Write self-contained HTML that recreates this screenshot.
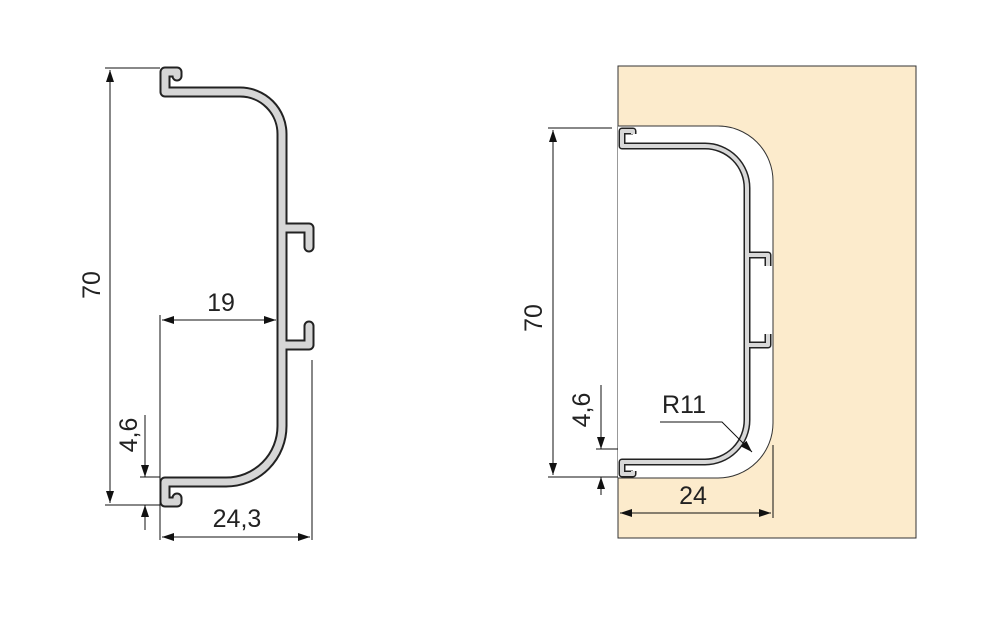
<!DOCTYPE html>
<html><head><style>body{margin:0;background:#fff}svg{display:block}text{font-family:"Liberation Sans",sans-serif;font-size:25px;fill:#222}</style></head>
<body>
<svg width="1007" height="639" viewBox="0 0 1007 639" xmlns="http://www.w3.org/2000/svg">
<defs>
<marker id="a" viewBox="0 0 12 8" refX="12" refY="4" markerWidth="12" markerHeight="8" markerUnits="userSpaceOnUse" orient="auto-start-reverse"><path d="M0,0 L12,4 L0,8z" fill="#111"/></marker>
</defs>
<path id="lp" d="M177,76 V72 H165 V92 H240 A42,42 0 0 1 282,134 V426 A56,56 0 0 1 226,482 H165 V502 H177 V498 M282,228 H309 V247 M282,345 H309 V326" fill="none"/>
<use href="#lp" stroke="#222" stroke-width="11" fill="none" stroke-linejoin="round" stroke-linecap="round"/>
<use href="#lp" stroke="#d6d6d6" stroke-width="7" fill="none" stroke-linejoin="round" stroke-linecap="round"/>
<g stroke="#111" stroke-width="1" fill="none">
<line x1="105" y1="68" x2="160" y2="68"/><line x1="105" y1="505" x2="160" y2="505"/>
<line x1="110" y1="70" x2="110" y2="503" marker-start="url(#a)" marker-end="url(#a)"/>
<line x1="160" y1="315" x2="160" y2="540"/>
<line x1="162" y1="320" x2="276" y2="320" marker-start="url(#a)" marker-end="url(#a)"/>
<line x1="312" y1="360" x2="312" y2="540"/>
<line x1="162" y1="537" x2="310" y2="537" marker-start="url(#a)" marker-end="url(#a)"/>
<line x1="140" y1="477" x2="160" y2="477"/>
<line x1="145" y1="415" x2="145" y2="477" marker-end="url(#a)"/>
<line x1="145" y1="530" x2="145" y2="505" marker-end="url(#a)"/>
</g>
<text x="100" y="285" text-anchor="middle" transform="rotate(-90 100 285)">70</text>
<text x="221" y="311" text-anchor="middle">19</text>
<text x="237" y="527" text-anchor="middle">24,3</text>
<text x="137" y="435" text-anchor="middle" transform="rotate(-90 137 435)">4,6</text>

<rect x="618" y="66" width="298" height="472" fill="#fcebcc" stroke="#333" stroke-width="1"/>
<path d="M618,126 H718 A55,55 0 0 1 773,181 V423 A55,55 0 0 1 718,478 H618 Z" fill="#fff"/>
<path d="M618,126 H718 A55,55 0 0 1 773,181 V423 A55,55 0 0 1 718,478 H618" fill="none" stroke="#333" stroke-width="1"/>
<path id="rp" d="M633,134 V131 H622 V146 H705 A42,42 0 0 1 747,188 V420 A42,42 0 0 1 705,462 H622 V474 H633 V471 M747,255 H768 V266 M747,345 H768 V334" fill="none"/>
<use href="#rp" stroke="#222" stroke-width="7" fill="none" stroke-linejoin="round"/>
<use href="#rp" stroke="#d8d8d8" stroke-width="4" fill="none" stroke-linejoin="round"/>
<g stroke="#111" stroke-width="1" fill="none">
<line x1="548" y1="128" x2="612" y2="128"/><line x1="548" y1="477" x2="618" y2="477"/>
<line x1="553" y1="130" x2="553" y2="475" marker-start="url(#a)" marker-end="url(#a)"/>
<line x1="596" y1="449" x2="618" y2="449"/>
<line x1="601" y1="385" x2="601" y2="449" marker-end="url(#a)"/>
<line x1="601" y1="495" x2="601" y2="477" marker-end="url(#a)"/>
<line x1="773" y1="445" x2="773" y2="518"/>
<line x1="620" y1="513" x2="771" y2="513" marker-start="url(#a)" marker-end="url(#a)"/>
<polyline points="660,422 722,422 752,452" marker-end="url(#a)"/>
</g>
<text x="542" y="318" text-anchor="middle" transform="rotate(-90 542 318)">70</text>
<text x="590" y="410" text-anchor="middle" transform="rotate(-90 590 410)">4,6</text>
<text x="684" y="413" text-anchor="middle">R11</text>
<text x="693" y="504" text-anchor="middle">24</text>
</svg>
</body></html>
